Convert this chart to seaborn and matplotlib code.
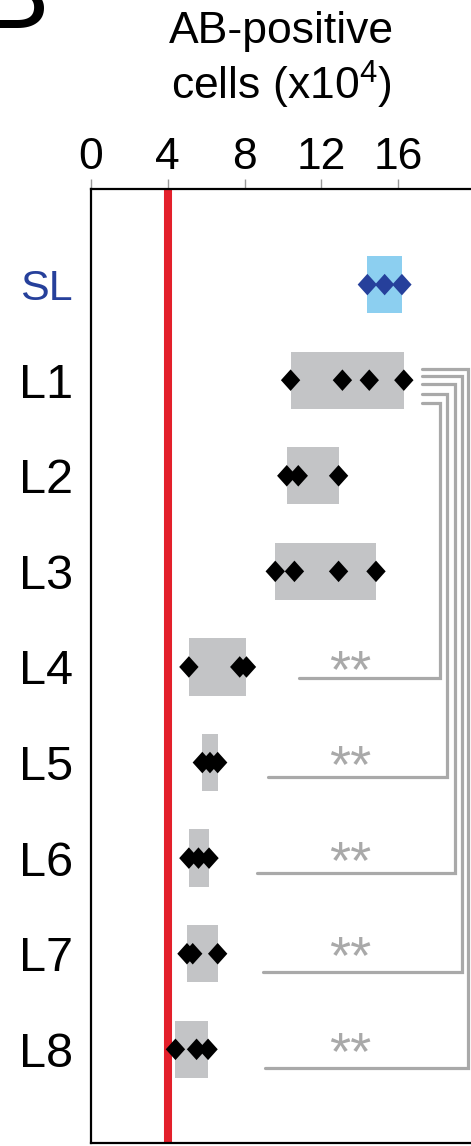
import numpy as np
import pandas as pd
import matplotlib
matplotlib.use('Agg')
import matplotlib.pyplot as plt
import seaborn as sns
from matplotlib.path import Path

# data (x10^4 AB-positive cells)
lines = ['SL', 'L1', 'L2', 'L3', 'L4', 'L5', 'L6', 'L7', 'L8']
counts = [
    [14.4, 15.3, 16.2],
    [10.4, 13.1, 14.5, 16.3],
    [10.2, 10.8, 12.9],
    [9.6, 10.6, 12.9, 14.85],
    [5.1, 7.75, 8.1],
    [5.8, 6.2, 6.6],
    [5.1, 5.6, 6.15],
    [5.0, 5.3, 6.6],
    [4.4, 5.5, 6.1],
]
threshold = 4
xticks = [0, 4, 8, 12, 16]

# lines compared against L1
sig_lines = ['L4', 'L5', 'L6', 'L7', 'L8']
sig_marks = ['**', '**', '**', '**', '**']

# colours
blue_dark = '#26409b'
blue_light = '#8ccff0'
box_grey = '#c3c4c6'
line_grey = '#a9a9a9'
red = '#e3202b'

sns.set_style('white')
plt.rcParams['font.family'] = ['Liberation Sans', 'DejaVu Sans']
plt.rcParams['mathtext.default'] = 'regular'
plt.rcParams['text.color'] = 'black'
plt.rcParams['axes.labelcolor'] = 'black'

rows = []
for i, (name, vals) in enumerate(zip(lines, counts)):
    for v in vals:
        rows.append({'line': name, 'row': i, 'count': v,
                     'group': 'SL' if name == 'SL' else 'L'})
df = pd.DataFrame(rows)
rng = df.groupby('row')['count'].agg(['min', 'max'])

fig = plt.figure(figsize=(4.71, 11.46), dpi=100)
ax = fig.add_axes([91 / 471, 3 / 1146, 380 / 471, 954 / 1146])

# min-max range boxes
box_colors = [blue_light if n == 'SL' else box_grey for n in lines]
ax.barh(rng.index, rng['max'] - rng['min'], left=rng['min'], height=0.6,
        color=box_colors, linewidth=0, zorder=1)

# threshold line
ax.axvline(threshold, color=red, lw=5.8, zorder=2)

# individual measurements
diamond = Path([(0, 1), (0.9, 0), (0, -1), (-0.9, 0), (0, 1)],
               [Path.MOVETO, Path.LINETO, Path.LINETO, Path.LINETO, Path.CLOSEPOLY])
sns.scatterplot(data=df, x='count', y='row', hue='group',
                palette={'SL': blue_dark, 'L': 'black'}, marker=diamond,
                s=240, linewidth=0, legend=False, ax=ax, zorder=3)

# significance brackets to L1
start_x = [10.84, 9.22, 8.65, 8.96, 9.07]
vert_x = [18.19, 18.55, 18.97, 19.33, 19.65]
stub_y = [1.24, 1.14, 1.04, 0.96, 0.886]
line_dy = [0.12, 0.154, 0.158, 0.194, 0.2]
for name, mark, x0, xv, ys, dy in zip(sig_lines, sig_marks, start_x, vert_x, stub_y, line_dy):
    r = lines.index(name)
    ax.plot([x0, xv, xv, 17.25], [r + dy, r + dy, ys, ys], color=line_grey,
            lw=2.3, solid_joinstyle='miter', clip_on=False, zorder=1)
    ax.text(13.5, r + 0.06, mark, color=line_grey, fontsize=39,
            ha='center', va='center')

ax.set_xlim(0, 19.8)
ax.set_ylim(8.98, -1.0)
ax.xaxis.tick_top()
ax.set_xticks(xticks)
ax.set_xticklabels([str(t) for t in xticks], fontsize=32, color='black')
ax.xaxis.set_label_position('top')
ax.set_xlabel('AB-positive\ncells (x10$^{4}$)', fontsize=32, labelpad=27,
              linespacing=1.15)
ax.set_ylabel('')
ax.set_yticks(range(len(lines)))
ax.set_yticklabels(lines, fontsize=35, color='black')
for lab in ax.get_yticklabels():
    if lab.get_text() == 'SL':
        lab.set_color(blue_dark)
        lab.set_fontsize(31)
ax.tick_params(axis='x', direction='out', length=7, width=1, color='#999999', pad=1)
ax.tick_params(axis='y', direction='out', length=6, width=1, color='#999999', pad=7)

for side in ['left', 'top', 'bottom']:
    ax.spines[side].set_color('black')
    ax.spines[side].set_linewidth(1.6)
ax.spines['right'].set_visible(False)

# panel letter, cropped at top left
fig.text(-0.043, 1 - 28 / 1146, 'B', fontsize=75, ha='left', va='baseline')

fig.savefig('out.png', dpi=100)
